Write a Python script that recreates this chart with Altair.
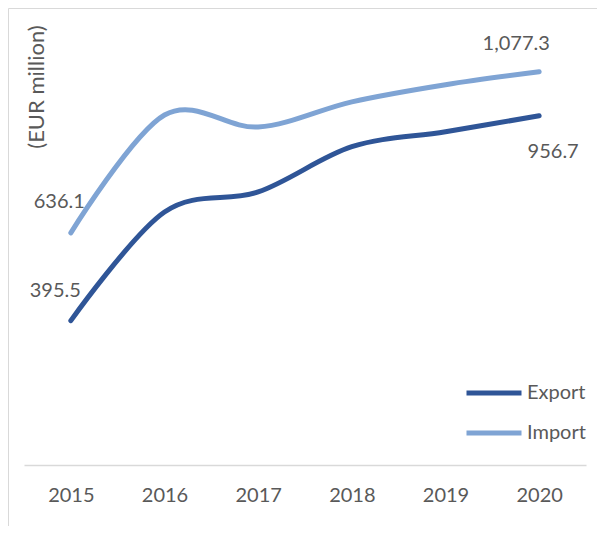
import altair as alt
import pandas as pd

years = ["2015", "2016", "2017", "2018", "2019", "2020"]
export_vals = [395.5, 693, 748, 872, 913, 956.7]
import_vals = [636.1, 959, 926, 995, 1042, 1077.3]
series = ["Export", "Import"]
colors = ["#2F5597", "#7FA4D4"]
y_title = "(EUR million)"

rows = []
for s, vals in zip(series, [export_vals, import_vals]):
    for y, v in zip(years, vals):
        rows.append({"year": y, "series": s, "value": v})
df = pd.DataFrame(rows)

FONT = "Lato"
TXT = "#595959"
FS = 20

xenc = alt.X("year:O", scale=alt.Scale(domain=years),
             axis=alt.Axis(title=None, labelAngle=0, ticks=False, domainColor="#d9d9d9",
                           domainWidth=1.5, labelFont=FONT, labelFontSize=FS, labelColor=TXT,
                           labelPadding=20))
yenc = alt.Y("value:Q", scale=alt.Scale(domain=[0, 1200]), axis=None)

base = alt.Chart(df)

lines = base.mark_line(interpolate="cardinal", strokeWidth=5, strokeCap="round").encode(
    x=xenc, y=yenc,
    color=alt.Color("series:N", scale=alt.Scale(domain=series, range=colors),
                    legend=alt.Legend(title=None, orient="none", legendX=440, legendY=336,
                                      symbolType="stroke", symbolSize=3025, symbolStrokeWidth=5,
                                      labelFont=FONT, labelFontSize=FS, labelColor=TXT,
                                      labelOffset=3, rowPadding=0)),
)

def lab(s, y, align, dx, dy):
    return base.transform_filter(
        (alt.datum.series == s) & (alt.datum.year == y)
    ).mark_text(font=FONT, fontSize=FS, color=TXT, align=align, baseline="middle",
                dx=dx, dy=dy).encode(x=xenc, y=yenc, text=alt.Text("value:Q", format=",.1f"))

labels = [
    lab("Export", "2015", "right", 10, -30),
    lab("Import", "2015", "right", 14, -31),
    lab("Import", "2020", "center", -23, -28),
    lab("Export", "2020", "center", 14, 36),
]

title = alt.Chart(alt.Data(values=[{"t": y_title}])).mark_text(
    font=FONT, fontSize=22, color=TXT, angle=270, align="center", baseline="middle"
).encode(x=alt.value(13), y=alt.value(60), text="t:N")

frame = alt.Chart(alt.Data(values=[{"a": 1}])).mark_rect(
    fill="white", fillOpacity=0, stroke="#d9d9d9", strokeWidth=1
).encode(x=alt.value(-15.5), x2=alt.value(700), y=alt.value(-18.5), y2=alt.value(700))

chart = alt.layer(frame, lines, *labels, title).properties(
    width=562, height=438,
    autosize=alt.AutoSizeParams(type="none"),
    padding={"left": 16, "top": 19, "right": 11, "bottom": 61},
).configure_view(stroke=None)

chart.save("out.html", embed_options={"renderer": "svg", "actions": False})
